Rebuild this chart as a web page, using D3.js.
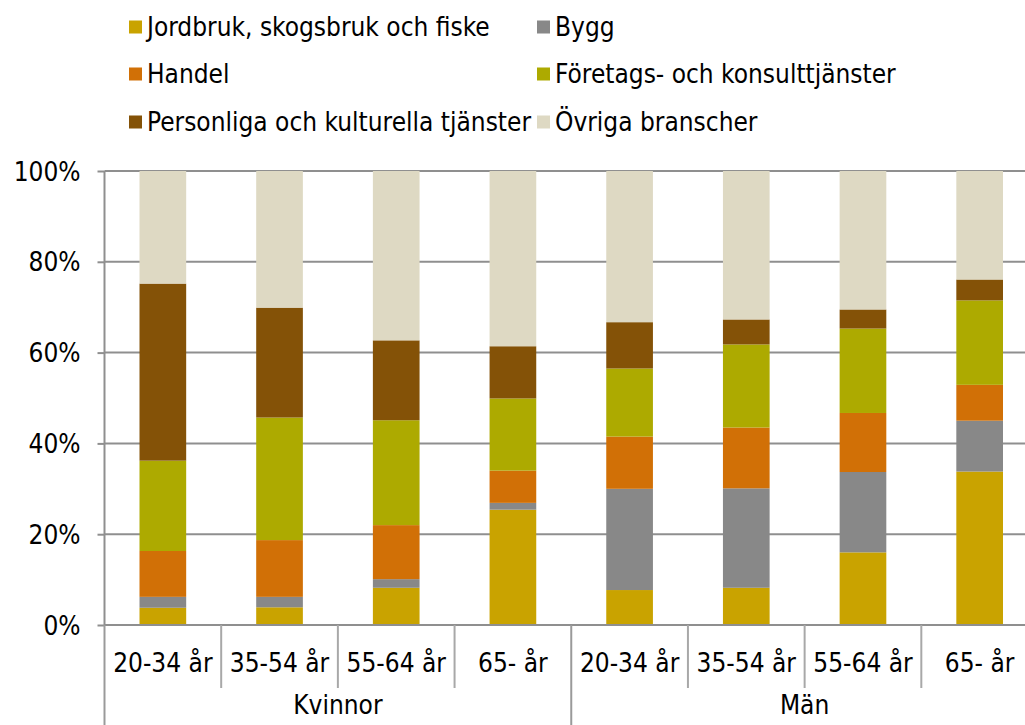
<!DOCTYPE html>
<html><head><meta charset="utf-8">
<script src="https://cdn.jsdelivr.net/npm/d3@7"></script>
<style>
html,body{margin:0;padding:0;background:#fff;}
svg{display:block;}
text{font-family:"DejaVu Sans Condensed","DejaVu Sans",sans-serif;fill:#000;}
</style></head>
<body>
<svg id="chart" width="1025" height="725"></svg>
<script>
const groups = ["Kvinnor", "Män"];
const ageLabels = ["20-34 år", "35-54 år", "55-64 år", "65- år"];
const seriesNames = ["Jordbruk, skogsbruk och fiske", "Bygg", "Handel", "Företags- och konsulttjänster", "Personliga och kulturella tjänster", "Övriga branscher"];
const seriesColors = ["#C9A300", "#888888", "#D17006", "#ADAA00", "#845207", "#DED9C3"];
// values per category (Kvinnor 20-34 ... Män 65-), in percent
const jordbruk   = [3.8, 3.9, 8.2, 25.4, 7.7, 8.2, 16.0, 33.8];
const bygg       = [2.4, 2.3, 1.9, 1.5, 22.3, 21.9, 17.7, 11.2];
const handel     = [10.1, 12.5, 11.9, 7.1, 11.5, 13.4, 13.0, 7.9];
const foretag    = [19.9, 27.0, 23.1, 15.9, 15.0, 18.3, 18.6, 18.6];
const personliga = [39.0, 24.2, 17.6, 11.5, 10.2, 5.5, 4.2, 4.6];
const ovriga     = [24.8, 30.1, 37.3, 38.6, 33.3, 32.7, 30.5, 23.9];
const yTicks = [0, 20, 40, 60, 80, 100];

const seriesArrays = [jordbruk, bygg, handel, foretag, personliga, ovriga];
const categories = [];
groups.forEach(g => ageLabels.forEach(a => categories.push({group: g, age: a, key: g + "|" + a})));
const rows = categories.map((c, i) => {
  const r = {key: c.key};
  seriesNames.forEach((s, j) => r[s] = seriesArrays[j][i]);
  return r;
});

const svg = d3.select("#chart");
const pLeft = 104.5, pRight = 1038, pTop = 171, pBottom = 625;
const fs = "26px";

const x = d3.scaleBand().domain(categories.map(c => c.key)).range([pLeft, pRight]).paddingInner(0.6).paddingOuter(0.3);
const y = d3.scaleLinear().domain([0, 100]).range([pBottom, pTop]);
const color = d3.scaleOrdinal().domain(seriesNames).range(seriesColors);

// gridlines
svg.append("g").selectAll("line").data(yTicks.filter(t => t > 0)).join("line")
  .attr("x1", pLeft).attr("x2", pRight).attr("y1", d => y(d)).attr("y2", d => y(d))
  .attr("stroke", "#8f8f8f").attr("stroke-width", 2);

// bars
const stack = d3.stack().keys(seriesNames);
const stacked = stack(rows);
svg.append("g").selectAll("g").data(stacked).join("g")
  .attr("fill", d => color(d.key))
  .selectAll("rect").data(d => d).join("rect")
  .attr("x", d => x(d.data.key))
  .attr("width", x.bandwidth())
  .attr("y", d => y(d[1]))
  .attr("height", d => y(d[0]) - y(d[1]));

// y axis
const yAxis = d3.axisLeft(y).tickValues(yTicks).tickFormat(d => d + "%").tickSize(7).tickPadding(17);
const ya = svg.append("g").attr("transform", `translate(${pLeft},0)`).call(yAxis);
ya.select(".domain").attr("stroke", "#8f8f8f").attr("stroke-width", 2).attr("d", `M0,${pTop}V${pBottom}`);
ya.selectAll(".tick line").attr("stroke", "#8f8f8f").attr("stroke-width", 2);
ya.selectAll(".tick text").style("font-size", fs).attr("fill", "#000").attr("dy", "0.35em");

// x axis baseline
svg.append("line").attr("x1", pLeft).attr("x2", pRight).attr("y1", y(0)).attr("y2", y(0))
  .attr("stroke", "#8f8f8f").attr("stroke-width", 2);

// category separators
const step = x.step();
const sepIdx = d3.range(0, categories.length + 1);
const sepX = i => x(categories[0].key) - x.paddingOuter() * step + i * step;
svg.append("g").selectAll("line").data(sepIdx).join("line")
  .attr("x1", sepX).attr("x2", sepX)
  .attr("y1", y(0))
  .attr("y2", i => (i % ageLabels.length === 0) ? 725 : 688)
  .attr("stroke", i => (i % ageLabels.length === 0) ? "#9a9a9a" : "#a8a8a8")
  .attr("stroke-width", 2);

// category labels
svg.append("g").selectAll("text").data(categories).join("text")
  .attr("x", d => x(d.key) + x.bandwidth() / 2)
  .attr("y", 672)
  .attr("text-anchor", "middle")
  .style("font-size", fs)
  .text(d => d.age);

// group labels
svg.append("g").selectAll("text").data(groups).join("text")
  .attr("x", g => {
    const first = categories.findIndex(c => c.group === g);
    const last = first + ageLabels.length - 1;
    return (x(categories[first].key) + x(categories[last].key) + x.bandwidth()) / 2;
  })
  .attr("y", 714)
  .attr("text-anchor", "middle")
  .style("font-size", fs)
  .text(g => g);

// legend
const legendPos = [[129, 27], [537, 27], [129, 74], [537, 74], [129, 122], [537, 122]];
const lg = svg.append("g").selectAll("g").data(seriesNames).join("g")
  .attr("transform", (d, i) => `translate(${legendPos[i][0]},${legendPos[i][1]})`);
lg.append("rect").attr("x", 0).attr("y", -6.5).attr("width", 13).attr("height", 13).attr("fill", d => color(d));
lg.append("text").attr("x", 18).attr("y", 0).attr("dy", "0.35em").style("font-size", fs).text(d => d);
</script>
</body></html>
